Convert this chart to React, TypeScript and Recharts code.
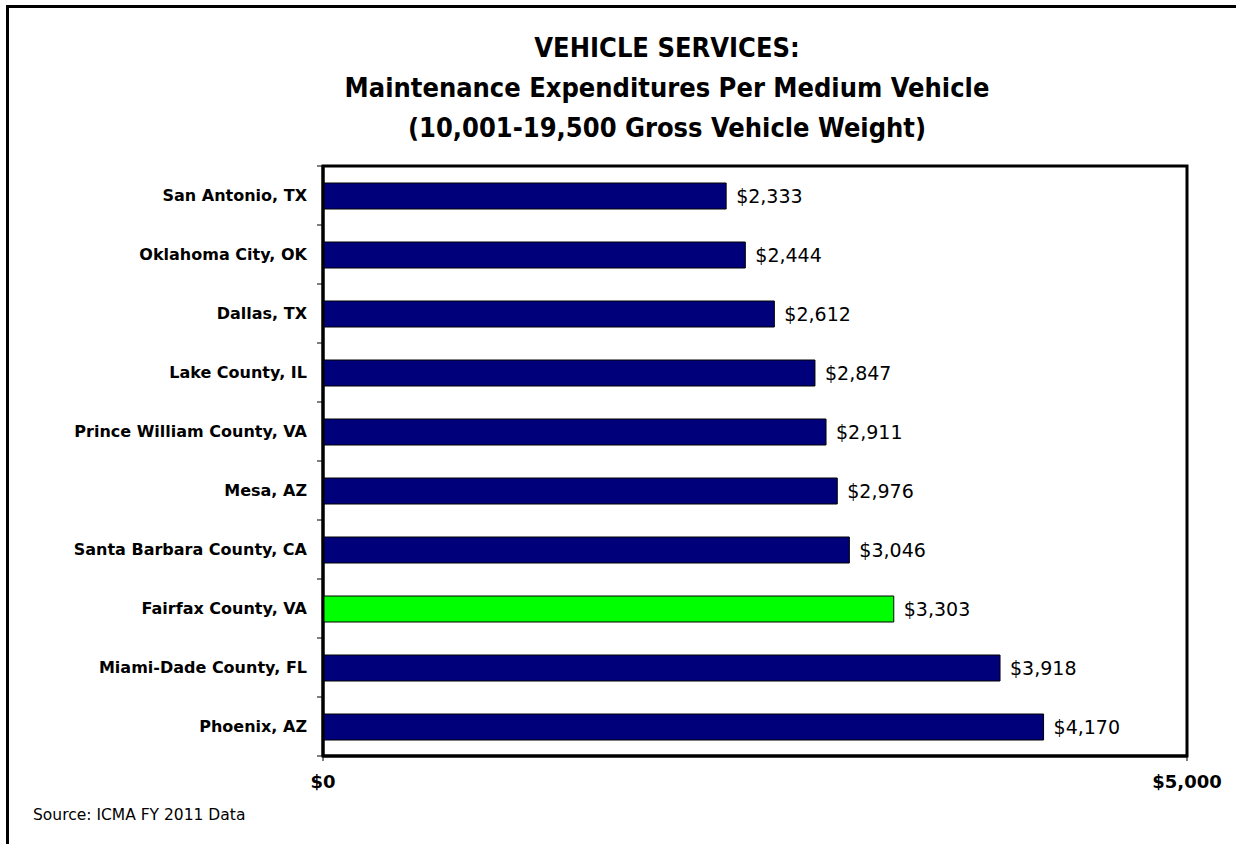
import React from "react";
import { BarChart, Bar, XAxis, YAxis, Cell, LabelList, ReferenceArea } from "recharts";

const categories = [
  "San Antonio, TX",
  "Oklahoma City, OK",
  "Dallas, TX",
  "Lake County, IL",
  "Prince William County, VA",
  "Mesa, AZ",
  "Santa Barbara County, CA",
  "Fairfax County, VA",
  "Miami-Dade County, FL",
  "Phoenix, AZ",
];
const values = [2333, 2444, 2612, 2847, 2911, 2976, 3046, 3303, 3918, 4170];
const highlight = "Fairfax County, VA";
const xTicks = [0, 5000];
const titleLines = [
  "VEHICLE SERVICES:",
  "Maintenance Expenditures Per Medium Vehicle",
  "(10,001-19,500 Gross Vehicle Weight)",
];
const sourceText = "Source: ICMA FY 2011 Data";

const data = categories.map((c, i) => ({ name: c, value: values[i] }));

const money = (v: number) => "$" + Number(v).toLocaleString("en-US");

const CHART_W = 1236;
const CHART_H = 844;
const MARGIN = { top: 166, right: 49, bottom: 48, left: 0 };
const X_AXIS_H = 40;
const Y_AXIS_W = 323;
const PLOT_H = CHART_H - MARGIN.top - MARGIN.bottom - X_AXIS_H;
const BAND = PLOT_H / categories.length;

const CategoryTick = (props: any) => {
  const { x, y, payload, index } = props;
  const axisX = MARGIN.left + Y_AXIS_W;
  return (
    <g>
      <text
        x={x}
        y={y}
        dy="0.355em"
        textAnchor="end"
        fill="#000"
        fontFamily="'DejaVu Sans', sans-serif"
        fontWeight="bold"
        fontSize={16}
      >
        {payload.value}
      </text>
      <line x1={axisX - 6} x2={axisX} y1={y - BAND / 2} y2={y - BAND / 2} stroke="#000" />
      {index === categories.length - 1 ? (
        <line x1={axisX - 6} x2={axisX} y1={y + BAND / 2} y2={y + BAND / 2} stroke="#000" />
      ) : null}
    </g>
  );
};

export default function App() {
  return (
    <div
      style={{
        position: "absolute",
        left: 0,
        top: 0,
        width: 1236,
        height: 844,
        overflow: "hidden",
        background: "#fff",
      }}
    >
      <div
        style={{
          position: "absolute",
          left: 6,
          top: 5,
          width: 1400,
          height: 1000,
          border: "3px solid #000",
          boxSizing: "border-box",
        }}
      />
      {titleLines.map((t, i) => (
        <div
          key={i}
          style={{
            position: "absolute",
            left: 0,
            width: 1334,
            top: 31 + i * 40,
            textAlign: "center",
            fontFamily: "'DejaVu Sans Condensed', 'DejaVu Sans', sans-serif",
            fontStretch: "condensed",
            fontWeight: "bold",
            fontSize: 27,
            lineHeight: "34px",
            color: "#000",
          }}
        >
          {t}
        </div>
      ))}
      <div
        style={{
          position: "absolute",
          left: 33,
          top: 806,
          fontFamily: "'DejaVu Sans', sans-serif",
          fontSize: 15.5,
          color: "#000",
        }}
      >
        {sourceText}
      </div>
      <div style={{ position: "absolute", left: 0, top: 0 }}>
        <BarChart
          width={CHART_W}
          height={CHART_H}
          data={data}
          layout="vertical"
          margin={MARGIN}
        >
          <XAxis
            type="number"
            dataKey="value"
            domain={[0, 5000]}
            ticks={xTicks}
            tickFormatter={money}
            axisLine={{ stroke: "#000", strokeWidth: 3 }}
            tickLine={{ stroke: "#000" }}
            tickSize={5}
            tickMargin={14}
            height={X_AXIS_H}
            tick={{
              fill: "#000",
              fontFamily: "'DejaVu Sans', sans-serif",
              fontWeight: "bold",
              fontSize: 18,
            }}
            interval={0}
          />
          <YAxis
            type="category"
            dataKey="name"
            width={Y_AXIS_W}
            axisLine={{ stroke: "#000", strokeWidth: 3 }}
            tickLine={false}
            tickSize={6}
            tickMargin={10}
            interval={0}
            tick={<CategoryTick />}
          />
          <ReferenceArea
            x1={0}
            x2={5000}
            fill="none"
            fillOpacity={0}
            stroke="#000"
            strokeWidth={3}
            ifOverflow="visible"
          />
          <Bar
            dataKey="value"
            barSize={26}
            stroke="#000"
            strokeWidth={1}
            isAnimationActive={false}
          >
            {data.map((d, i) => (
              <Cell key={i} fill={d.name === highlight ? "#00FF00" : "#00007A"} />
            ))}
            <LabelList
              dataKey="value"
              position="right"
              offset={10}
              formatter={(v: any) => money(v)}
              style={{
                fill: "#000",
                fontFamily: "'DejaVu Sans', sans-serif",
                fontSize: 19,
              }}
            />
          </Bar>
        </BarChart>
      </div>
    </div>
  );
}
